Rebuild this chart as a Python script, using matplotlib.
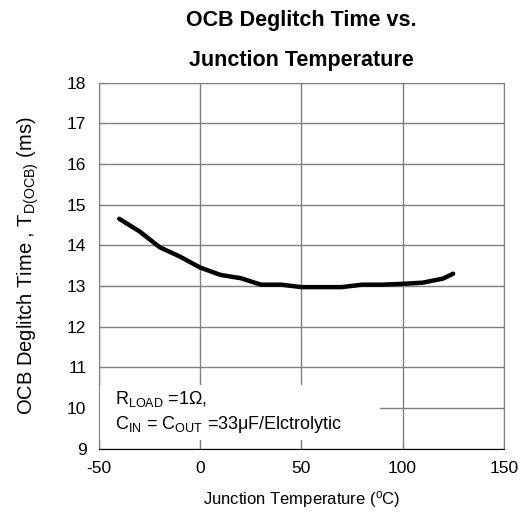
import matplotlib.pyplot as plt
from matplotlib.patches import Rectangle

plt.rcParams['font.family'] = ['Liberation Sans', 'DejaVu Sans']
plt.rcParams['axes.unicode_minus'] = False

temps = [-40, -30, -20, -10, 0, 10, 20, 30, 40, 50, 60, 70, 80, 90, 100, 110, 120, 125]
deglitch = [14.65, 14.34, 13.95, 13.72, 13.45, 13.27, 13.19, 13.03, 13.03, 12.97,
            12.97, 12.97, 13.03, 13.03, 13.05, 13.08, 13.18, 13.30]
xticks = [-50, 0, 50, 100, 150]
yticks = list(range(9, 19))

fig = plt.figure(figsize=(5.21, 5.29), dpi=100)
ax = fig.add_axes([0.19, 0.152, 0.777, 0.692])

ax.plot(temps, deglitch, color='black', lw=3.2, solid_capstyle='round', zorder=3)

ax.set_xlim(-50, 150)
ax.set_ylim(9, 18)
ax.set_xticks(xticks)
ax.set_yticks(yticks)
ax.grid(True, color='#7f7f7f', lw=1)
ax.set_axisbelow(True)
ax.tick_params(direction='in', length=4, labelsize=12.5, color='#7f7f7f', pad=9)
for s in ax.spines.values():
    s.set_color('#7f7f7f')
ax.spines['bottom'].set_color('black')

# white box hiding the grid behind the note
ax.add_patch(Rectangle((-50, 9.22), 139, 1.35, facecolor='white',
                       edgecolor='none', zorder=1.5))
ax.text(-42, 9.9,
        r'R$_{\mathregular{LOAD}}$ =1Ω,' + '\n' +
        r'C$_{\mathregular{IN}}$ = C$_{\mathregular{OUT}}$ =33μF/Elctrolytic',
        fontsize=13, va='center', ha='left', zorder=2, linespacing=1.3)

ax.set_xlabel('Junction Temperature ($\\mathregular{^{o}}$C)', fontsize=12, labelpad=9)
ax.set_ylabel(r'OCB Deglitch Time , T$_{\mathregular{D(OCB)}}$ (ms)', fontsize=14.5, labelpad=19)

fig.text(0.578, 0.950, 'OCB Deglitch Time vs.', ha='center', va='baseline',
         fontsize=15.5, fontweight='bold')
fig.text(0.578, 0.876, 'Junction Temperature', ha='center', va='baseline',
         fontsize=15.5, fontweight='bold')

fig.savefig('out.png', dpi=100)
